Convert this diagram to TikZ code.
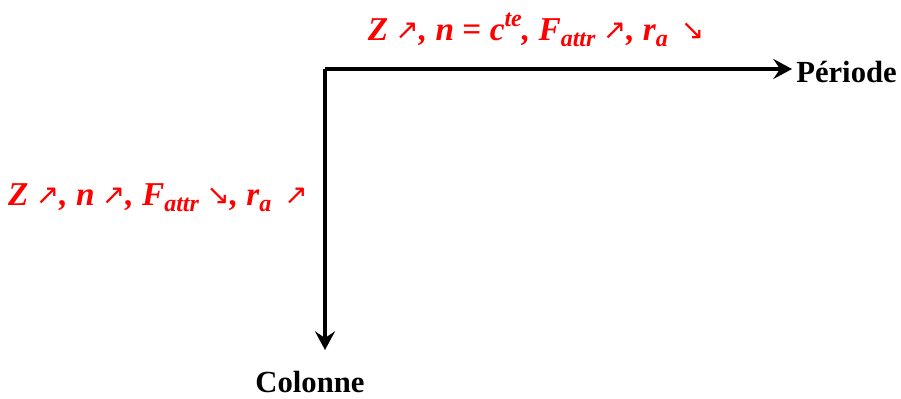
\documentclass[tikz,border=0pt]{standalone}
\usepackage{fontspec}
\setmainfont{Liberation Serif}
\newfontfamily\arrowfont{DejaVu Sans}
\usetikzlibrary{arrows.meta}
\definecolor{lblred}{RGB}{255,0,0}
\newcommand\upar{\hspace{0.22em}{\arrowfont\mdseries\upshape\fontsize{21}{21}\selectfont\raisebox{0.05ex}{↗}}}
\newcommand\dnar{\hspace{0.22em}{\arrowfont\mdseries\upshape\fontsize{21}{21}\selectfont\raisebox{0.05ex}{↘}}}
\newcommand\mysub[1]{\raisebox{-0.4ex}{\fontsize{18}{18}\selectfont #1}}
\newcommand\mysup[1]{\raisebox{0.9ex}{\fontsize{18}{18}\selectfont #1}}
\tikzset{
  axis/.style={line width=3pt, -{Stealth[length=14pt,width=15pt,inset=5pt]}},
  axlabel/.style={font=\fontsize{23}{26}\selectfont\bfseries, inner sep=0pt},
  redlabel/.style={text=lblred, font=\fontsize{25}{27}\selectfont\bfseries\itshape, inner sep=0pt}
}
\begin{document}
\begin{tikzpicture}[x=0.75pt,y=-0.75pt]
\useasboundingbox (0,0) rectangle (901,399);
\coordinate (corner) at (325,69);
\coordinate (htip) at (792,69);
\coordinate (vtip) at (325,350);
\draw[axis] (corner) -- (htip);
\draw[axis] (corner) -- (vtip);
\node[axlabel, anchor=west] (periode) at (796,72) {Période};
\node[axlabel] (colonne) at (310,382) {Colonne};
\node[redlabel] (top) at (536,30) {Z\upar, n {\upshape=} c\mysup{te}, F\mysub{attr}\upar, r\mysub{a}\,\dnar};
\node[redlabel] (left) at (158,198) {Z\upar, n\upar, F\mysub{attr}\dnar, r\mysub{a}\,\upar};
\end{tikzpicture}
\end{document}
